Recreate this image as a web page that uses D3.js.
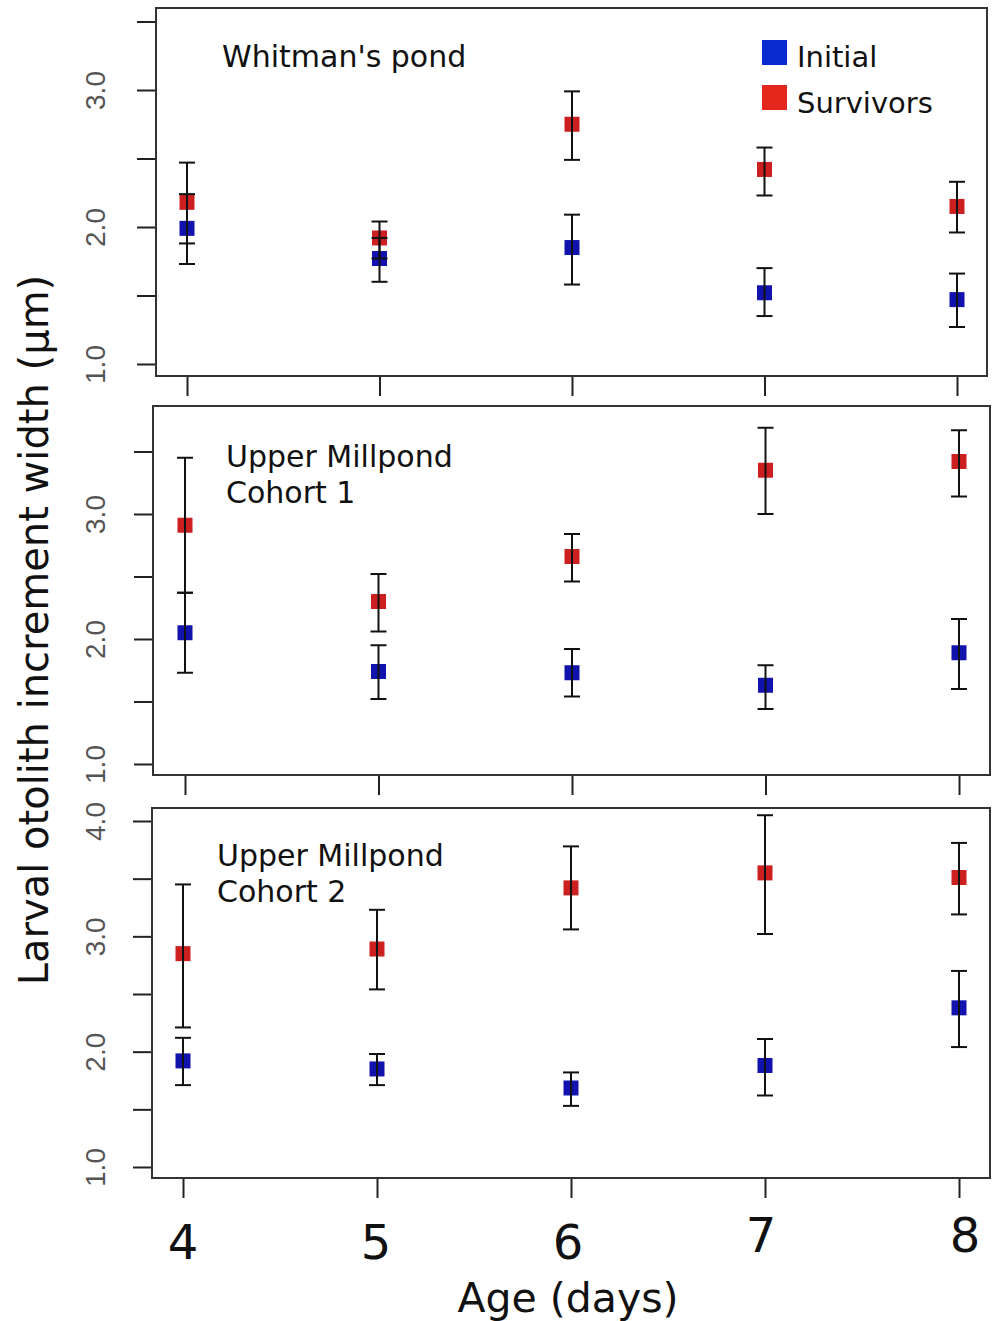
<!DOCTYPE html>
<html>
<head>
<meta charset="utf-8">
<script src="https://cdn.jsdelivr.net/npm/d3@7"></script>
<style>
  body { margin: 0; background: #fff; }
</style>
</head>
<body>
<div id="chart"></div>
<script>
(function () {
  'use strict';

  // ages on the x axis
  const days = [4, 5, 6, 7, 8];
  const seriesNames = ['Initial', 'Survivors'];
  const panelTitles = [["Whitman's pond"], ['Upper Millpond', 'Cohort 1'], ['Upper Millpond', 'Cohort 2']];

  // Whitman's pond
  const initMean1 = [1.99, 1.77, 1.85, 1.52, 1.47];
  const initLo1 = [1.73, 1.60, 1.58, 1.35, 1.27];
  const initHi1 = [2.24, 1.92, 2.09, 1.70, 1.66];
  const survMean1 = [2.18, 1.92, 2.75, 2.42, 2.15];
  const survLo1 = [1.88, 1.77, 2.49, 2.23, 1.96];
  const survHi1 = [2.47, 2.04, 2.99, 2.58, 2.33];

  // Upper Millpond cohort 1
  const initMean2 = [2.05, 1.74, 1.73, 1.63, 1.89];
  const initLo2 = [1.73, 1.52, 1.54, 1.44, 1.60];
  const initHi2 = [2.37, 1.95, 1.92, 1.79, 2.16];
  const survMean2 = [2.91, 2.30, 2.66, 3.35, 3.42];
  const survLo2 = [2.37, 2.06, 2.46, 3.00, 3.14];
  const survHi2 = [3.45, 2.52, 2.84, 3.69, 3.67];

  // Upper Millpond cohort 2
  const initMean3 = [1.92, 1.85, 1.685, 1.88, 2.38];
  const initLo3 = [1.71, 1.71, 1.53, 1.62, 2.04];
  const initHi3 = [2.12, 1.98, 1.82, 2.11, 2.70];
  const survMean3 = [2.85, 2.89, 3.42, 3.55, 3.51];
  const survLo3 = [2.21, 2.54, 3.06, 3.02, 3.19];
  const survHi3 = [3.45, 3.23, 3.78, 4.05, 3.81];

  const yTickValues = [[1, 1.5, 2, 2.5, 3, 3.5], [1, 1.5, 2, 2.5, 3, 3.5], [1, 1.5, 2, 2.5, 3, 3.5, 4]];
  const yTickLabels = [[1, 2, 3], [1, 2, 3], [1, 2, 3, 4]];

  const markerColors = ['#1212ae', '#cc1f1f'];
  const legendColors = ['#0a2bd0', '#e5261a'];
  const textFont = "'Century Gothic', 'URW Gothic', 'DejaVu Sans', sans-serif";

  const width = 993;
  const height = 1321;

  // box and scale anchors of the three panels
  const panels = [
    { box: [156, 987, 8, 376], xr: [187, 957], yd: [1, 3], yr: [364, 90], title: [222, 67],
      series: [[initMean1, initLo1, initHi1], [survMean1, survLo1, survHi1]] },
    { box: [153, 990, 406, 775], xr: [185, 959], yd: [1, 3], yr: [764, 514], title: [226, 467],
      series: [[initMean2, initLo2, initHi2], [survMean2, survLo2, survHi2]] },
    { box: [152, 990, 808, 1178], xr: [183, 959], yd: [1, 4], yr: [1167, 821], title: [217, 866],
      series: [[initMean3, initLo3, initHi3], [survMean3, survLo3, survHi3]] }
  ];

  const svg = d3.select('#chart')
    .append('svg')
    .attr('width', width)
    .attr('height', height);

  const fmt = d3.format('.1f');
  const markerSize = 15;
  const capW = 16;

  panels.forEach(function (p, pi) {
    const [x0, x1, y0, y1] = p.box;
    const xScale = d3.scaleLinear().domain([4, 8]).range(p.xr);
    const yScale = d3.scaleLinear().domain(p.yd).range(p.yr);
    const g = svg.append('g');

    // y axis ticks with rotated labels
    const yAxis = d3.axisLeft(yScale)
      .tickValues(yTickValues[pi])
      .tickSize(19)
      .tickFormat(d => yTickLabels[pi].indexOf(d) >= 0 ? fmt(d) : '');
    const ya = g.append('g')
      .attr('transform', 'translate(' + x0 + ',0)')
      .call(yAxis);
    ya.select('.domain').remove();
    ya.selectAll('line').attr('stroke', '#222').attr('stroke-width', 2);
    ya.selectAll('text')
      .attr('x', null)
      .attr('dy', null)
      .attr('transform', 'translate(' + (105 - x0) + ',0) rotate(-90)')
      .attr('text-anchor', 'middle')
      .attr('fill', '#555')
      .style('font-family', "'Liberation Sans', Arial, sans-serif")
      .style('font-size', '28px');

    // x axis ticks
    const xAxis = d3.axisBottom(xScale)
      .tickValues(days)
      .tickSize(20)
      .tickFormat('');
    const xa = g.append('g')
      .attr('transform', 'translate(0,' + y1 + ')')
      .call(xAxis);
    xa.select('.domain').remove();
    xa.selectAll('line').attr('stroke', '#222').attr('stroke-width', 2);

    // panel box
    g.append('rect')
      .attr('x', x0)
      .attr('y', y0)
      .attr('width', x1 - x0)
      .attr('height', y1 - y0)
      .attr('fill', 'none')
      .attr('stroke', '#333')
      .attr('stroke-width', 2);

    // markers
    p.series.forEach(function (s, si) {
      g.selectAll('rect.pt' + si)
        .data(days)
        .enter()
        .append('rect')
        .attr('class', 'pt' + si)
        .attr('x', d => xScale(d) - markerSize / 2)
        .attr('y', (d, i) => yScale(s[0][i]) - markerSize / 2)
        .attr('width', markerSize)
        .attr('height', markerSize)
        .attr('fill', markerColors[si]);
    });

    // error bars drawn over the markers
    p.series.forEach(function (s, si) {
      const eb = g.selectAll('g.eb' + si)
        .data(days)
        .enter()
        .append('g')
        .attr('class', 'eb' + si)
        .attr('stroke', '#111')
        .attr('stroke-width', 2);
      eb.append('line')
        .attr('x1', d => xScale(d))
        .attr('x2', d => xScale(d))
        .attr('y1', (d, i) => yScale(s[1][i]))
        .attr('y2', (d, i) => yScale(s[2][i]));
      eb.append('line')
        .attr('x1', d => xScale(d) - capW / 2)
        .attr('x2', d => xScale(d) + capW / 2)
        .attr('y1', (d, i) => yScale(s[1][i]))
        .attr('y2', (d, i) => yScale(s[1][i]));
      eb.append('line')
        .attr('x1', d => xScale(d) - capW / 2)
        .attr('x2', d => xScale(d) + capW / 2)
        .attr('y1', (d, i) => yScale(s[2][i]))
        .attr('y2', (d, i) => yScale(s[2][i]));
    });

    // panel title
    const t = g.append('text')
      .attr('x', p.title[0])
      .attr('y', p.title[1])
      .attr('fill', '#111')
      .style('font-family', textFont)
      .style('font-size', '30px');
    panelTitles[pi].forEach(function (line, li) {
      t.append('tspan')
        .attr('x', p.title[0])
        .attr('dy', li === 0 ? 0 : 36)
        .text(line);
    });

    // bottom panel carries the tick labels
    if (pi === panels.length - 1) {
      const nudgeX = [0, -1, -3, -4, 6];
      const nudgeY = [0, 0, 0, -7, -7];
      g.selectAll('text.xlab')
        .data(days)
        .enter()
        .append('text')
        .attr('class', 'xlab')
        .attr('x', (d, i) => xScale(d) + nudgeX[i])
        .attr('y', (d, i) => 1259 + nudgeY[i])
        .attr('text-anchor', 'middle')
        .attr('fill', '#111')
        .style('font-family', textFont)
        .style('font-size', '48px')
        .text(d => d);
    }
  });

  // legend in the first panel
  const legend = svg.append('g');
  seriesNames.forEach(function (name, i) {
    legend.append('rect')
      .attr('x', 762)
      .attr('y', 40 + i * 45)
      .attr('width', 25)
      .attr('height', 25)
      .attr('fill', legendColors[i]);
    legend.append('text')
      .attr('x', 797)
      .attr('y', 67 + i * 46)
      .attr('fill', '#111')
      .style('font-family', textFont)
      .style('font-size', '29px')
      .text(name);
  });

  // axis titles
  svg.append('text')
    .attr('x', 568)
    .attr('y', 1312)
    .attr('text-anchor', 'middle')
    .attr('fill', '#111')
    .style('font-family', textFont)
    .style('font-size', '41px')
    .text('Age (days)');

  svg.append('text')
    .attr('transform', 'translate(48,630) rotate(-90)')
    .attr('text-anchor', 'middle')
    .attr('fill', '#111')
    .style('font-family', textFont)
    .style('font-size', '40px')
    .text('Larval otolith increment width (μm)');
}());
</script>
</body>
</html>
